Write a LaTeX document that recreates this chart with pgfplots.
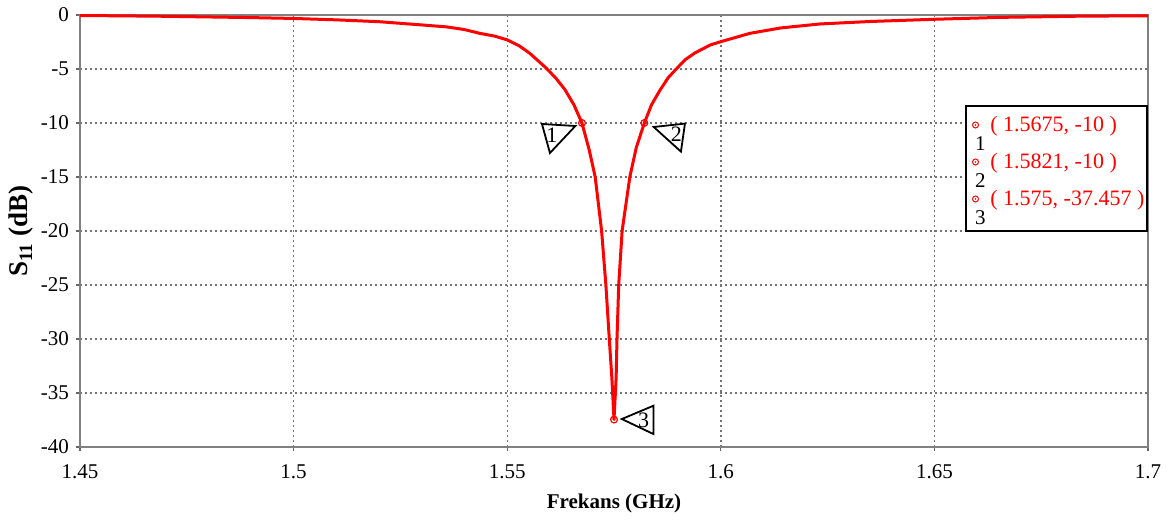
\documentclass[border=0pt]{standalone}
\usepackage{pgfplots}
\pgfplotsset{compat=1.18}
\usepackage{fontspec}
\setmainfont{Liberation Serif}
\newsavebox\odotbox
\newcommand\mkrow[2]{\hbox{\rlap{\hspace{1pt}\raisebox{1.75pt}{\usebox\odotbox}}\hspace{2.6pt}\raisebox{-9.2pt}{\fontsize{10.5}{12}\selectfont #1}\hspace{2.35pt}\textcolor{red}{#2}}}
\begin{document}%
\sbox\odotbox{\tikz{\draw[red, line width=0.5pt] (0,0) circle (1.5pt); \fill[red] (0,0) circle (0.45pt);}}%
\begin{tikzpicture}
\useasboundingbox (0,0) rectangle (585.5pt,262pt);
\begin{axis}[
  at={(40pt,38.5pt)}, anchor=south west,
  scale only axis, width=534pt, height=216pt,
  xmin=1.45, xmax=1.7, ymin=-40, ymax=0,
  xtick={1.45,1.5,1.55,1.6,1.65,1.7},
  xticklabels={1.45,1.5,1.55,1.6,1.65,1.7},
  ytick={-40,-35,-30,-25,-20,-15,-10,-5,0},
  yticklabels={-40,-35,-30,-25,-20,-15,-10,-5,0},
  xtick pos=left, ytick pos=left,
  grid=major,
  major grid style={dash pattern=on 1pt off 1.5pt, black!55, line width=0.7pt},
  axis line style={black!50, line width=1pt},
  tick align=outside, major tick length=2pt,
  tick style={black!60, line width=0.6pt},
  ticklabel style={font=\fontsize{10.5}{12}\selectfont},
  xticklabel style={yshift=-3.5pt},
  xlabel={Frekans (GHz)},
  ylabel={S\textsubscript{11} (dB)},
  xlabel style={at={(axis description cs:0.5,-0.13)}, anchor=center, font=\fontsize{10.5}{13}\selectfont\bfseries},
  ylabel style={at={(axis description cs:-0.055,0.5)}, anchor=center, font=\fontsize{13.5}{15}\selectfont\bfseries},
  clip=false,
]
\addplot[red, line width=1.5pt] coordinates {
(1.45,-0.05) (1.46,-0.08) (1.47,-0.12) (1.48,-0.18) (1.49,-0.24)
(1.50,-0.32) (1.51,-0.45) (1.52,-0.62) (1.53,-0.92) (1.5358,-1.1)
(1.54,-1.35) (1.5436,-1.7) (1.547,-1.95) (1.55,-2.3) (1.5528,-2.85) (1.5553,-3.55)
(1.5592,-4.94) (1.5615,-5.9) (1.5635,-6.9) (1.5656,-8.3) (1.5675,-10)
(1.5692,-12.5) (1.5706,-15) (1.5721,-20) (1.5731,-25)
(1.5739,-30) (1.5745,-33.6) (1.575,-37.457) (1.5755,-33.6) (1.5757,-30)
(1.5761,-25) (1.5769,-20) (1.5787,-15) (1.5802,-12.3) (1.5821,-10) (1.5838,-8.3) (1.5858,-6.94)
(1.5877,-5.8) (1.5897,-4.94) (1.5918,-4.1) (1.594,-3.5) (1.5975,-2.78) (1.60,-2.47) (1.6068,-1.7)
(1.614,-1.2) (1.6232,-0.83) (1.635,-0.6) (1.6497,-0.4) (1.6654,-0.22)
(1.6857,-0.1) (1.70,-0.08)
};
\addplot[only marks, mark=o, mark size=1.7pt, red, line width=0.6pt] coordinates {(1.5675,-10) (1.5821,-10) (1.575,-37.457)};
\addplot[only marks, mark=*, mark size=0.45pt, red] coordinates {(1.5675,-10) (1.5821,-10) (1.575,-37.457)};
% marker annotations
\draw[black, line width=0.9pt, fill=white] ([shift={(-20pt,-0.5pt)}]axis cs:1.5675,-10) -- ([shift={(-3.3pt,-1.5pt)}]axis cs:1.5675,-10) -- ([shift={(-16pt,-15pt)}]axis cs:1.5675,-10) -- cycle;
\node[font=\fontsize{11}{13}\selectfont, inner sep=0pt] at ([shift={(-15pt,-6pt)}]axis cs:1.5675,-10) {1};
\draw[black, line width=0.9pt, fill=white] ([shift={(4.7pt,-2pt)}]axis cs:1.5821,-10) -- ([shift={(20.3pt,-0.3pt)}]axis cs:1.5821,-10) -- ([shift={(18.3pt,-14.3pt)}]axis cs:1.5821,-10) -- cycle;
\node[font=\fontsize{11}{13}\selectfont, inner sep=0pt] at ([shift={(16pt,-5.5pt)}]axis cs:1.5821,-10) {2};
\draw[black, line width=0.9pt, fill=white] ([shift={(3.9pt,0.25pt)}]axis cs:1.575,-37.457) -- ([shift={(19.7pt,6.9pt)}]axis cs:1.575,-37.457) -- ([shift={(19.7pt,-7.25pt)}]axis cs:1.575,-37.457) -- cycle;
\node[font=\fontsize{11}{13}\selectfont, inner sep=0pt] at ([shift={(14.8pt,-0.3pt)}]axis cs:1.575,-37.457) {3};
\end{axis}
% marker table
\draw[black, line width=0.8pt, fill=white] (483pt,146.5pt) rectangle (573.5pt,209pt);
\node[anchor=base west, inner sep=0pt] at (484.8pt,196pt) {\vtop{\fontsize{11}{13}\selectfont\baselineskip=18.5pt\lineskiplimit=-\maxdimen
  \mkrow{1}{( 1.5675, -10 )}
  \mkrow{2}{( 1.5821, -10 )}
  \mkrow{3}{( 1.575, -37.457 )}}};
\end{tikzpicture}%
\end{document}
